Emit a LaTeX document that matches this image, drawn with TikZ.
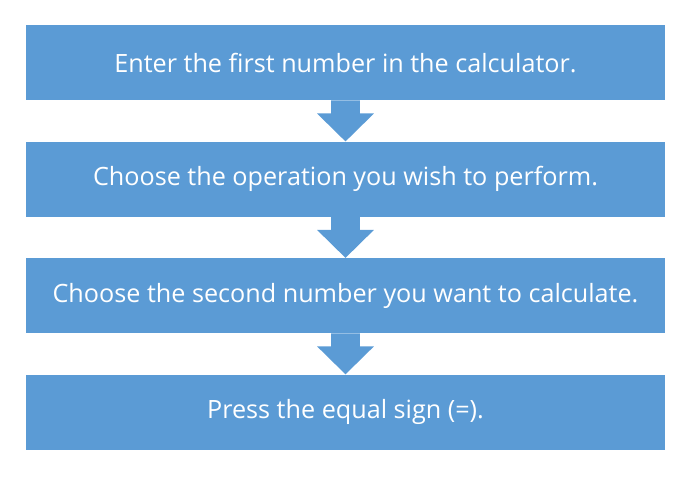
\documentclass[tikz,border=0pt]{standalone}
\usepackage{fontspec}
\setmainfont{Open Sans}
\usetikzlibrary{positioning,calc}
\definecolor{stepblue}{HTML}{5B9BD5}
\tikzset{
  stepbox/.style={fill=stepblue, text=white, minimum width=479.25pt,
    minimum height=56.25pt, inner sep=0pt, font=\fontsize{18.9}{22}\selectfont},
  downarrow/.style={fill=stepblue}
}
% block arrow from the bottom of one box to the top of the next
\newcommand{\steparrow}[2]{%
  \fill[downarrow] ($(#1.south)+(-10.875pt,0)$) -- ++(0,-9.75pt) -- ++(-10.5pt,0)
    -- (#2.north) -- ($(#1.south)+(21.375pt,-9.75pt)$) -- ++(-10.5pt,0)
    -- ($(#1.south)+(10.875pt,0)$) -- cycle;}
\begin{document}
\begin{tikzpicture}[node distance=30.75pt]
  \node[stepbox] (enter) {Enter the first number in the calculator.};
  \node[stepbox, below=of enter] (choose) {Choose the operation you wish to perform.};
  \node[stepbox, below=of choose] (second) {Choose the second number you want to calculate.};
  \node[stepbox, below=of second] (press) {Press the equal sign (=).};
  \steparrow{enter}{choose}
  \steparrow{choose}{second}
  \steparrow{second}{press}
  \useasboundingbox ($(enter.north west)+(-19.5pt,18.75pt)$)
    rectangle ($(press.south east)+(16.5pt,-24.75pt)$);
\end{tikzpicture}
\end{document}
